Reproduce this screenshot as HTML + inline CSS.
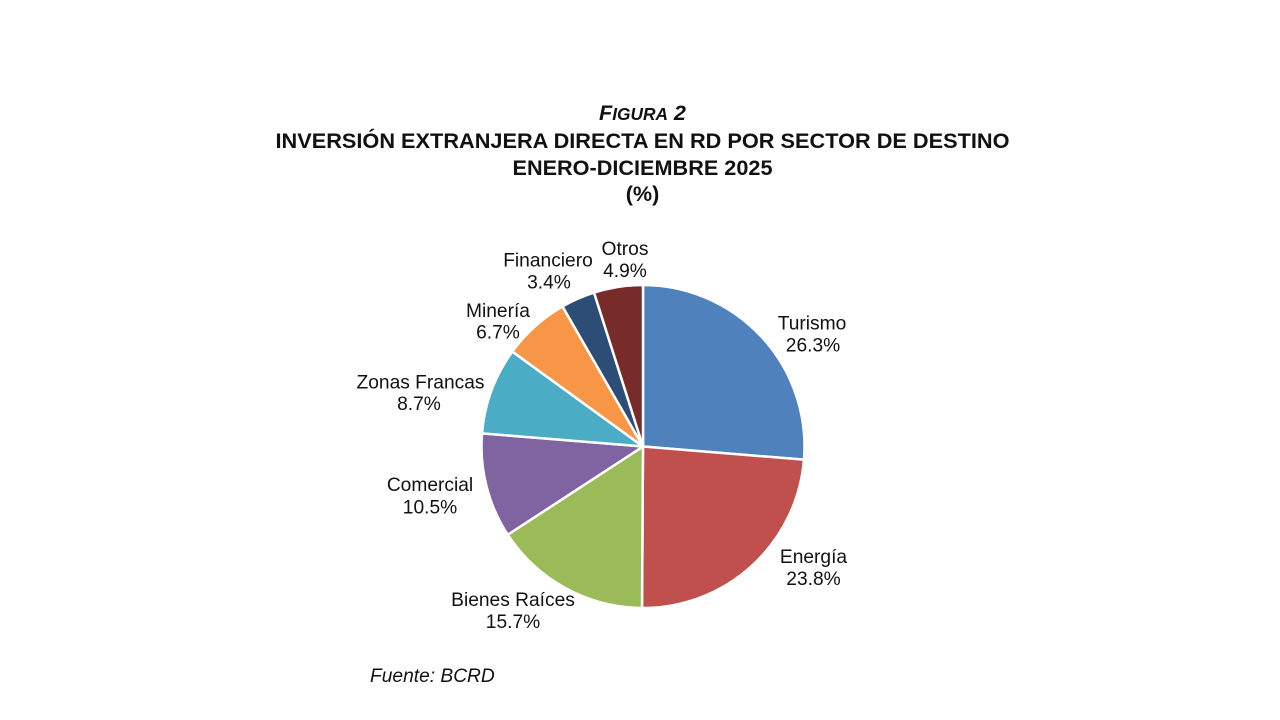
<!DOCTYPE html>
<html>
<head>
<meta charset="utf-8">
<style>
  html, body { margin: 0; padding: 0; background: #ffffff; }
  svg { display: block; }
  text { font-family: "Liberation Sans", Arial, sans-serif; fill: #111; }
</style>
</head>
<body>
<svg width="1280" height="720" viewBox="0 0 1280 720" xmlns="http://www.w3.org/2000/svg">
  <rect x="0" y="0" width="1280" height="720" fill="#ffffff"/>

  <!-- Title -->
  <text x="642.5" y="120" text-anchor="middle" font-weight="bold" font-style="italic" font-size="21.6" fill="#000"><tspan>F</tspan><tspan font-size="17.3">IGURA</tspan><tspan> 2</tspan></text>
  <text x="642.5" y="148" text-anchor="middle" font-weight="bold" font-size="21.6" textLength="734" lengthAdjust="spacingAndGlyphs" fill="#000">INVERSIÓN EXTRANJERA DIRECTA EN RD POR SECTOR DE DESTINO</text>
  <text x="642.5" y="175" text-anchor="middle" font-weight="bold" font-size="21.6" textLength="260" lengthAdjust="spacingAndGlyphs" fill="#000">ENERO-DICIEMBRE 2025</text>
  <text x="642.5" y="201" text-anchor="middle" font-weight="bold" font-size="21.6" fill="#000">(%)</text>

  <!-- Pie -->
  <g stroke="#ffffff" stroke-width="2.5" stroke-linejoin="round">
    <path d="M643,446.5 L643,285 A161.5,161.5 0 0 1 803.96,459.68 Z" fill="#4F81BD"/>
    <path d="M643,446.5 L803.96,459.68 A161.5,161.5 0 0 1 641.99,608 Z" fill="#C0504D"/>
    <path d="M643,446.5 L641.99,608 A161.5,161.5 0 0 1 507.73,534.74 Z" fill="#9BBB59"/>
    <path d="M643,446.5 L507.73,534.74 A161.5,161.5 0 0 1 482.04,433.32 Z" fill="#8064A2"/>
    <path d="M643,446.5 L482.04,433.32 A161.5,161.5 0 0 1 512.34,351.57 Z" fill="#4BACC6"/>
    <path d="M643,446.5 L512.34,351.57 A161.5,161.5 0 0 1 562.54,306.47 Z" fill="#F79646"/>
    <path d="M643,446.5 L562.54,306.47 A161.5,161.5 0 0 1 594.06,292.59 Z" fill="#2C4D75"/>
    <path d="M643,446.5 L594.06,292.59 A161.5,161.5 0 0 1 643,285 Z" fill="#772C2A"/>
  </g>

  <!-- Labels -->
  <g font-size="19.2" text-anchor="middle">
    <text x="812" y="329.5">Turismo</text>
    <text x="813" y="351.5">26.3%</text>

    <text x="813.5" y="563">Energía</text>
    <text x="813.5" y="585">23.8%</text>

    <text x="513" y="606">Bienes Raíces</text>
    <text x="513" y="628">15.7%</text>

    <text x="430" y="491">Comercial</text>
    <text x="430" y="513.5">10.5%</text>

    <text x="420.5" y="388.5">Zonas Francas</text>
    <text x="419" y="410">8.7%</text>

    <text x="498" y="317">Minería</text>
    <text x="498" y="338.5">6.7%</text>

    <text x="548" y="266.5">Financiero</text>
    <text x="549" y="288.5">3.4%</text>

    <text x="625" y="255">Otros</text>
    <text x="625" y="277">4.9%</text>
  </g>

  <!-- Source -->
  <text x="370" y="682" font-size="19.2" font-style="italic">Fuente: BCRD</text>
</svg>
</body>
</html>
